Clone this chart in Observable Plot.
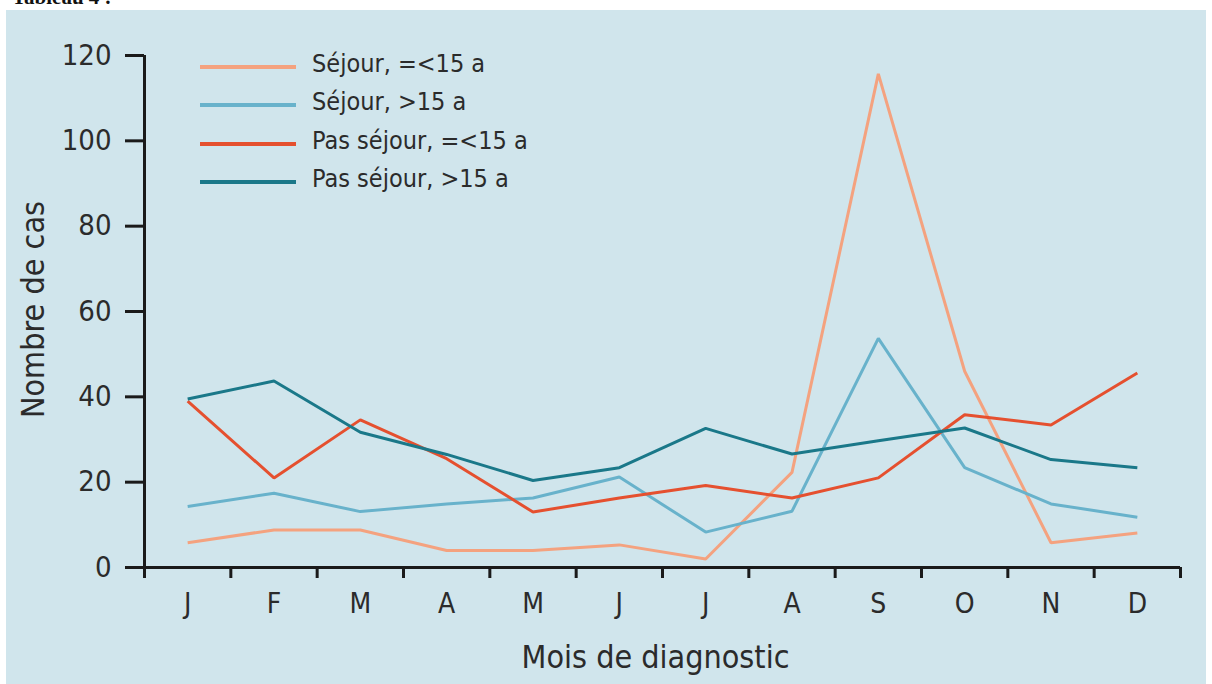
<!DOCTYPE html>
<html>
<head>
<meta charset="utf-8">
<script src="https://cdn.jsdelivr.net/npm/d3@7"></script>
<script src="https://cdn.jsdelivr.net/npm/@observablehq/plot@0.6"></script>
<style>
  body { margin: 0; background: #ffffff; width: 1212px; height: 684px; overflow: hidden; position: relative; }
  #title { position: absolute; left: 12px; top: -15px; font: bold 21px "Liberation Serif", "DejaVu Serif", serif; color: #111; white-space: nowrap; }
  #panel { position: absolute; left: 6px; top: 10px; width: 1200px; height: 674px; background: #d0e5ec; overflow: hidden; }
  #chart { position: absolute; left: 0; top: 0; }
  .leg { position: absolute; left: 194px; height: 30px; display: flex; align-items: center; white-space: nowrap; color: #2b2b2b; }
  .leg .sw { width: 96px; height: 4px; margin-right: 16px; }
</style>
</head>
<body>
<div id="title">Tableau 4 :</div>
<div id="panel"><div id="chart"></div><div id="legend"></div></div>
<script>
// ---- data ----
const months = ["J", "F", "M", "A", "M", "J", "J", "A", "S", "O", "N", "D"];
const seriesNames = ["Séjour, =<15 a", "Séjour, >15 a", "Pas séjour, =<15 a", "Pas séjour, >15 a"];
const sejourLe15     = [5.8, 8.8, 8.8, 4.0, 4.0, 5.3, 2.0, 22.3, 115.7, 46.0, 5.8, 8.1];
const sejourGt15     = [14.3, 17.4, 13.1, 14.9, 16.3, 21.2, 8.3, 13.2, 53.7, 23.4, 14.9, 11.8];
const pasSejourLe15  = [39.0, 21.0, 34.6, 25.5, 13.0, 16.3, 19.2, 16.3, 21.0, 35.8, 33.4, 45.6];
const pasSejourGt15  = [39.5, 43.7, 31.7, 26.5, 20.4, 23.4, 32.6, 26.6, 29.7, 32.7, 25.3, 23.4];
const seriesColors = ["#f4a27f", "#68b2cb", "#e5502f", "#1a7889"];
const yTicks = [0, 20, 40, 60, 80, 100, 120];

// ---- font pick ----
function pick(list) {
  const c = document.createElement("canvas").getContext("2d");
  const s = "Séjour, =<15 a Mois de diagnostic 0123456789";
  for (const f of list) {
    c.font = "40px monospace"; const a = c.measureText(s).width;
    c.font = `40px "${f}", monospace`; const b = c.measureText(s).width;
    c.font = "40px serif"; const d = c.measureText(s).width;
    c.font = `40px "${f}", serif`; const e = c.measureText(s).width;
    if (a !== b || d !== e) return f;
  }
  return "sans-serif";
}
const FONT = pick(["Liberation Sans Narrow", "DejaVu Sans Condensed", "Roboto Condensed", "Open Sans"]);

const allSeries = [sejourLe15, sejourGt15, pasSejourLe15, pasSejourGt15];
const rows = allSeries.flatMap((arr, s) => arr.map((v, i) => ({ series: seriesNames[s], m: i + 0.5, v })));

const ink = "#1a1a1a";
const chart = Plot.plot({
  width: 1200,
  height: 674,
  marginLeft: 138,
  marginRight: 26,
  marginTop: 45,
  marginBottom: 117,
  style: { background: "transparent", fontFamily: `"${FONT}", sans-serif`, color: "#2b2b2b", overflow: "visible" },
  x: { domain: [0, 12], axis: null },
  y: { domain: [0, 120], axis: null },
  color: { domain: seriesNames, range: seriesColors },
  marks: [
    // axes
    Plot.ruleX([0], { y1: -2.4, y2: 120, stroke: ink, strokeWidth: 3 }),
    Plot.ruleY([0], { x1: 0, x2: 12, stroke: ink, strokeWidth: 3 }),
    Plot.axisY({ ticks: yTicks, tickSize: 19, tickPadding: 14, stroke: ink, strokeWidth: 3, fontSize: 29, fill: "#2b2b2b", label: null }),
    Plot.axisX({ ticks: d3.range(13), tickSize: 11, tickFormat: () => "", stroke: ink, strokeWidth: 3, label: null }),
    Plot.axisX({ ticks: d3.range(12).map(i => i + 0.5), tickSize: 0, tickPadding: 26, tickFormat: d => months[Math.floor(d)], fontSize: 28, fill: "#2b2b2b", label: null }),
    // lines
    Plot.line(rows, { x: "m", y: "v", z: "series", stroke: "series", strokeWidth: 3, strokeLinejoin: "miter", strokeLinecap: "butt" }),
    // titles
    Plot.text(["Mois de diagnostic"], { frameAnchor: "bottom", text: d => d, textAnchor: "middle", dx: -7, dy: 100, lineAnchor: "bottom", fontSize: 32, fill: "#2b2b2b" }),
    Plot.text(["Nombre de cas"], { frameAnchor: "left", text: d => d, textAnchor: "middle", rotate: -90, dx: -101, dy: -2, lineAnchor: "bottom", fontSize: 32, fill: "#2b2b2b" })
  ]
});
document.getElementById("chart").appendChild(chart);

// legend
const legend = document.getElementById("legend");
const legY = [57, 95, 134, 172];
seriesNames.forEach((n, i) => {
  const d = document.createElement("div");
  d.className = "leg";
  d.style.top = (legY[i] - 15) + "px";
  d.style.font = `25px "${FONT}", sans-serif`;
  d.innerHTML = `<div class="sw" style="background:${seriesColors[i]}"></div><span style="position:relative;top:-4px">${n}</span>`;
  legend.appendChild(d);
});
</script>
</body>
</html>
